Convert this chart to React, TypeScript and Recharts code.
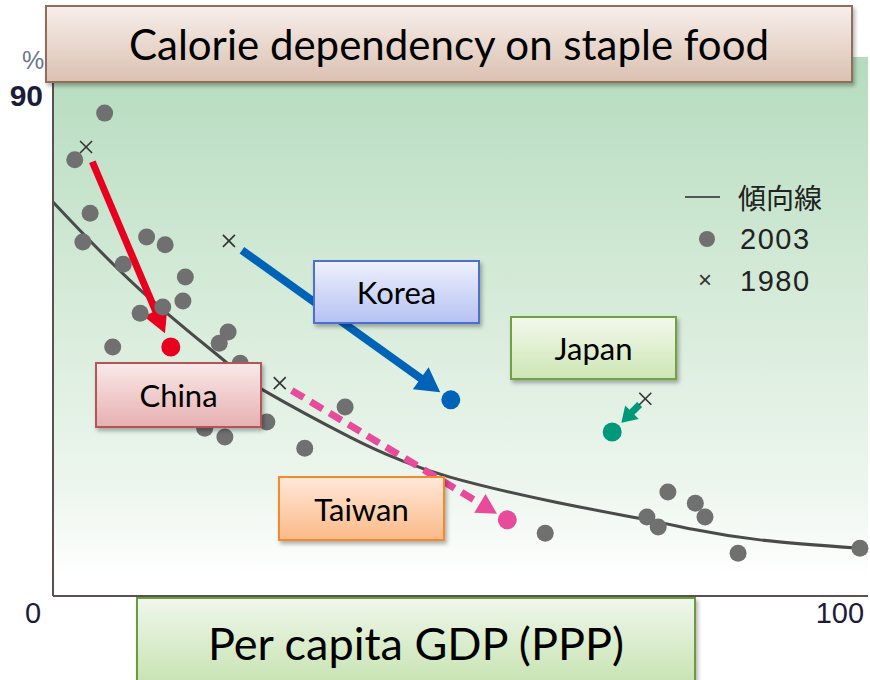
import React from "react";
import {
  ComposedChart, Scatter, Line, XAxis, YAxis, CartesianGrid, ReferenceLine,
} from "recharts";

// 2003年の各国（灰色の点）
const dots2003 = [
  { x: 6.4, y: 86.9 }, { x: 2.7, y: 78.5 }, { x: 4.6, y: 68.9 }, { x: 3.7, y: 63.7 },
  { x: 8.7, y: 59.7 }, { x: 11.6, y: 64.6 }, { x: 13.9, y: 63.2 }, { x: 16.4, y: 57.4 },
  { x: 16.1, y: 53.1 }, { x: 13.6, y: 52.0 }, { x: 10.8, y: 50.9 }, { x: 7.4, y: 44.8 },
  { x: 21.7, y: 47.5 }, { x: 20.6, y: 45.5 }, { x: 23.2, y: 41.9 }, { x: 26.5, y: 31.3 },
  { x: 21.3, y: 28.6 }, { x: 18.8, y: 30.2 }, { x: 31.2, y: 26.6 }, { x: 36.2, y: 34.0 },
  { x: 61.0, y: 11.3 }, { x: 76.2, y: 18.7 }, { x: 73.6, y: 14.2 }, { x: 75.0, y: 12.4 },
  { x: 79.6, y: 16.7 }, { x: 80.8, y: 14.2 }, { x: 84.9, y: 7.7 }, { x: 100, y: 8.6 },
];

// 傾向線（読み取り値）
const trend = [
  { x: 0, y: 70.9 }, { x: 10.8, y: 55.1 }, { x: 21.6, y: 41.9 }, { x: 26.0, y: 37.1 },
  { x: 36.8, y: 28.6 }, { x: 43.0, y: 24.5 }, { x: 49.2, y: 21.4 }, { x: 61.6, y: 17.1 },
  { x: 73.6, y: 13.7 }, { x: 79.3, y: 12.0 }, { x: 87.6, y: 10.1 }, { x: 100, y: 8.6 },
];

const countries = ["China", "Korea", "Taiwan", "Japan"];
const pos1980 = [
  { x: 4.1, y: 80.8 }, { x: 21.8, y: 63.9 }, { x: 28.1, y: 38.3 }, { x: 73.4, y: 35.5 },
];
const pos2003 = [
  { x: 14.6, y: 44.8 }, { x: 49.3, y: 35.3 }, { x: 56.3, y: 13.7 }, { x: 69.3, y: 29.5 },
];
const countryColors = ["#e8001f", "#0063b8", "#e84b9a", "#00987a"];

const xTicks = [0, 100];
const yTicks = [90];

// 矢印の見た目（始点・終点の余白、矢じりの大きさ）
const arrowStyle = [
  { startGap: 16, endGap: 15, head: 24, headW: 26, lw: 7, dash: undefined },
  { startGap: 16, endGap: 13, head: 24, headW: 27, lw: 8, dash: undefined },
  { startGap: 14, endGap: 12, head: 20, headW: 22, lw: 7, dash: "14 8" },
  { startGap: 8, endGap: 13, head: 15, headW: 19, lw: 7, dash: undefined },
];

function makeArrow(i: number) {
  const st = arrowStyle[i];
  const color = countryColors[i];
  // eslint-disable-next-line @typescript-eslint/no-explicit-any
  return (p: any) => {
    const { x1, y1, x2, y2 } = p;
    const dx = x2 - x1, dy = y2 - y1;
    const len = Math.sqrt(dx * dx + dy * dy);
    const ux = dx / len, uy = dy / len;
    const sx = x1 + ux * st.startGap, sy = y1 + uy * st.startGap;
    const tx = x2 - ux * st.endGap, ty = y2 - uy * st.endGap;
    const bx = tx - ux * st.head, by = ty - uy * st.head;
    const px = -uy * st.headW / 2, py = ux * st.headW / 2;
    return (
      <g>
        <line x1={sx} y1={sy} x2={bx + ux * 2} y2={by + uy * 2} stroke={color}
          strokeWidth={st.lw} strokeDasharray={st.dash} />
        <polygon points={`${tx},${ty} ${bx + px},${by + py} ${bx - px},${by - py}`} fill={color} />
      </g>
    );
  };
}

// eslint-disable-next-line @typescript-eslint/no-explicit-any
const GrayDot = (p: any) => <circle cx={p.cx} cy={p.cy} r={8.5} fill="#707070" />;
// eslint-disable-next-line @typescript-eslint/no-explicit-any
const Cross = (p: any) => (
  <g stroke="#333" strokeWidth={1.6}>
    <line x1={p.cx - 6} y1={p.cy - 6} x2={p.cx + 6} y2={p.cy + 6} />
    <line x1={p.cx - 6} y1={p.cy + 6} x2={p.cx + 6} y2={p.cy - 6} />
  </g>
);
// eslint-disable-next-line @typescript-eslint/no-explicit-any
const colorDot = (c: string) => (p: any) => <circle cx={p.cx} cy={p.cy} r={9.5} fill={c} />;

// eslint-disable-next-line @typescript-eslint/no-explicit-any
const XTick = (p: any) => (
  <text x={p.x - 20} y={596 + 17} textAnchor="middle" dominantBaseline="central"
    fontSize={29} fontFamily="Liberation Sans, Arial, sans-serif" fill="#1c1c3a">
    {p.payload.value}
  </text>
);
// eslint-disable-next-line @typescript-eslint/no-explicit-any
const YTick = (p: any) => (
  <text x={43} y={p.y} textAnchor="end" dominantBaseline="central"
    fontSize={30} fontWeight="bold" fontFamily="Liberation Sans, Arial, sans-serif" fill="#1c1c3a">
    {p.payload.value}
  </text>
);

const boxFont = "Lato, 'Open Sans', sans-serif";
const legendNum = {
  position: "absolute" as const, left: 740, fontSize: 29, letterSpacing: 1.5, color: "#222",
  fontFamily: "Liberation Sans, Arial, sans-serif", lineHeight: "34px",
};

function Tag(props: {
  left: number; top: number; width: number; height: number; text: string;
  from: string; to: string; border: string; size: number;
}) {
  return (
    <div style={{
      position: "absolute", left: props.left, top: props.top, width: props.width, height: props.height,
      background: `linear-gradient(${props.from}, ${props.to})`, border: `2px solid ${props.border}`,
      boxSizing: "border-box", boxShadow: "2px 3px 4px rgba(0,0,0,0.3)",
      display: "flex", alignItems: "center", justifyContent: "center",
      fontFamily: boxFont, fontSize: props.size, color: "#000",
    }}>{props.text}</div>
  );
}

export default function App() {
  return (
    <div style={{ position: "absolute", left: 0, top: 0, width: 870, height: 680, overflow: "hidden", background: "#fff" }}>
      <div style={{ position: "absolute", left: 22, top: 46, fontSize: 25, color: "#6a7690", fontFamily: "Liberation Sans, Arial, sans-serif" }}>%</div>
      <ComposedChart width={870} height={680} margin={{ top: 57, right: 2, bottom: 83, left: 52 }}>
        <defs>
          <linearGradient id="plotBg" x1="0" y1="0" x2="0" y2="1">
            <stop offset="0%" stopColor="#b5dcbe" />
            <stop offset="45%" stopColor="#d6ebd9" />
            <stop offset="80%" stopColor="#edf6ee" />
            <stop offset="97%" stopColor="#ffffff" />
          </linearGradient>
        </defs>
        <CartesianGrid horizontal={false} vertical={false} fill="url(#plotBg)" stroke="none" />
        <XAxis type="number" dataKey="x" domain={[0, 101]} ticks={xTicks} height={1}
          tickLine={false} tickSize={0} tickMargin={0} tick={<XTick />} interval={0}
          axisLine={{ stroke: "#5a5050", strokeWidth: 2 }} />
        <YAxis type="number" dataKey="y" domain={[0, 97]} ticks={yTicks} width={1}
          tickLine={false} tickSize={0} tickMargin={0} tick={<YTick />} interval={0}
          axisLine={{ stroke: "#5a5050", strokeWidth: 2 }} />
        <Line data={trend} dataKey="y" type="natural" stroke="#4a4a4a" strokeWidth={3}
          dot={false} activeDot={false} isAnimationActive={false} />
        <Scatter data={dots2003} dataKey="y" shape={GrayDot} isAnimationActive={false} />
        <Scatter data={pos1980} dataKey="y" shape={Cross} isAnimationActive={false} />
        {countries.map((c, i) => (
          <ReferenceLine key={c} segment={[pos1980[i], pos2003[i]]} shape={makeArrow(i)} />
        ))}
        {countries.map((c, i) => (
          <Scatter key={c} name={c} data={[pos2003[i]]} dataKey="y" shape={colorDot(countryColors[i])} isAnimationActive={false} />
        ))}
      </ComposedChart>

      {/* 凡例 */}
      <div style={{ position: "absolute", left: 685, top: 196, width: 35, height: 2, background: "#555" }} />
      <div style={{ position: "absolute", left: 699, top: 231, width: 16, height: 16, borderRadius: 8, background: "#707070" }} />
      <div style={{ position: "absolute", left: 698, top: 266, fontSize: 24, color: "#333", fontFamily: "Liberation Sans, Arial, sans-serif" }}>×</div>
      <div style={{ position: "absolute", left: 738, top: 179, fontSize: 28, color: "#222", fontFamily: "'Noto Sans CJK JP', sans-serif", lineHeight: "36px" }}>傾向線</div>
      <div style={{ ...legendNum, top: 222 }}>2003</div>
      <div style={{ ...legendNum, top: 264 }}>1980</div>

      <Tag left={45} top={5} width={808} height={78} text="Calorie dependency on staple food"
        from="#f7eeea" to="#dbc1b2" border="#8f6f5c" size={42} />
      <Tag left={136} top={597} width={560} height={92} text="Per capita GDP (PPP)"
        from="#eff7eb" to="#c6e2b0" border="#6c9a3c" size={45} />
      <Tag left={313} top={260} width={167} height={64} text="Korea"
        from="#eef0fd" to="#b6c2f2" border="#4d6fd0" size={31} />
      <Tag left={510} top={316} width={167} height={64} text="Japan"
        from="#f2f8eb" to="#cde6b6" border="#74a044" size={31} />
      <Tag left={95} top={362} width={167} height={66} text="China"
        from="#f9e8e8" to="#e7b1b2" border="#b3555a" size={31} />
      <Tag left={278} top={476} width={167} height={65} text="Taiwan"
        from="#ffe8d8" to="#fbba88" border="#f08a2c" size={31} />
    </div>
  );
}
